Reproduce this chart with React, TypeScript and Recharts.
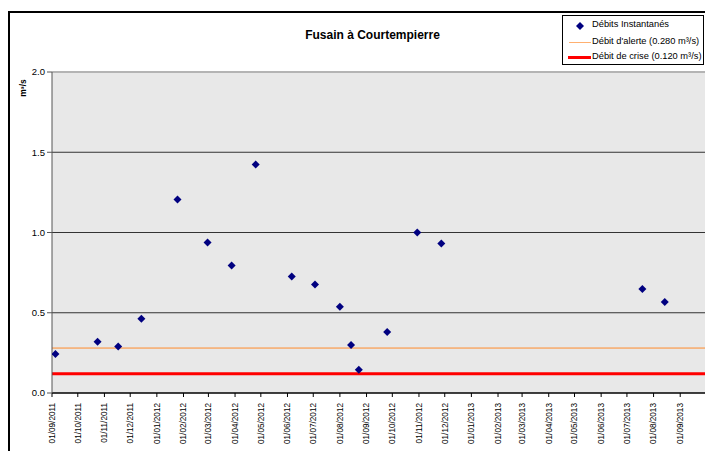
import { ScatterChart, Scatter, XAxis, YAxis, CartesianGrid, ReferenceLine } from 'recharts';

const sampleDates = [
  '05/09/2011', '24/10/2011', '17/11/2011', '14/12/2011', '25/01/2012', '29/02/2012',
  '28/03/2012', '25/04/2012', '06/06/2012', '03/07/2012', '01/08/2012', '14/08/2012',
  '23/08/2012', '25/09/2012', '30/10/2012', '27/11/2012', '19/07/2013', '14/08/2013',
];
const sampleFlows = [
  0.243, 0.319, 0.29, 0.463, 1.205, 0.938,
  0.795, 1.424, 0.726, 0.676, 0.537, 0.299,
  0.145, 0.38, 1.0, 0.932, 0.648, 0.567,
];

const monthTicks = [
  '01/09/2011', '01/10/2011', '01/11/2011', '01/12/2011', '01/01/2012', '01/02/2012',
  '01/03/2012', '01/04/2012', '01/05/2012', '01/06/2012', '01/07/2012', '01/08/2012',
  '01/09/2012', '01/10/2012', '01/11/2012', '01/12/2012', '01/01/2013', '01/02/2013',
  '01/03/2013', '01/04/2013', '01/05/2013', '01/06/2013', '01/07/2013', '01/08/2013',
  '01/09/2013',
];
const yTicks = [0, 0.5, 1, 1.5, 2];
const gridValues = [0.5, 1, 1.5];

const alertFlow = 0.28;
const crisisFlow = 0.12;

const parseDate = (s: string) => {
  const [d, m, y] = s.split('/').map(Number);
  return Date.UTC(y, m - 1, d);
};
const fmtDate = (t: number) => {
  const d = new Date(t);
  const dd = String(d.getUTCDate()).padStart(2, '0');
  const mm = String(d.getUTCMonth() + 1).padStart(2, '0');
  return `${dd}/${mm}/${d.getUTCFullYear()}`;
};

const data = sampleDates.map((s, i) => ({ t: parseDate(s), v: sampleFlows[i] }));
const tickTimes = monthTicks.map(parseDate);
const xDomain = [parseDate('01/09/2011'), parseDate('01/10/2013')];

const font = '"Liberation Sans", Arial, sans-serif';

const Diamond = (props: any) => {
  const { cx, cy } = props;
  if (cx == null || cy == null) return null;
  return (
    <polygon
      points={`${cx},${cy - 4} ${cx + 4},${cy} ${cx},${cy + 4} ${cx - 4},${cy}`}
      fill="#000080"
    />
  );
};

const DateTick = (props: any) => {
  const { x, y, payload } = props;
  return (
    <text
      x={x}
      y={y + 4}
      transform={`rotate(-90, ${x}, ${y + 4})`}
      textAnchor="end"
      dy="0.35em"
      fontSize={8.2}
      fontFamily={font}
      fill="#000"
    >
      {fmtDate(payload.value)}
    </text>
  );
};

export default function App() {
  return (
    <div
      style={{
        position: 'fixed', left: 0, top: 0, width: 705, height: 451,
        overflow: 'hidden', background: '#fff', fontFamily: font,
      }}
    >
      <div
        style={{
          position: 'absolute', left: 8, top: 11, width: 800, height: 500,
          borderLeft: '2px solid #000', borderTop: '2px solid #000',
        }}
      />
      <div
        style={{
          position: 'absolute', left: 0, width: 745, top: 28, textAlign: 'center',
          fontSize: 12, fontWeight: 'bold', color: '#000',
        }}
      >
        Fusain à Courtempierre
      </div>
      <div
        style={{
          position: 'absolute', left: 23, top: 88, fontSize: 8.5, fontWeight: 'bold',
          transform: 'translate(-50%, -50%) rotate(-90deg)', whiteSpace: 'nowrap',
        }}
      >
        m³/s
      </div>

      <div style={{ position: 'absolute', left: 0, top: 0 }}>
        <ScatterChart width={706} height={500} margin={{ top: 72, right: 0, bottom: 47, left: 0 }}>
          <CartesianGrid horizontal={false} vertical={false} fill="#e8e8e8" />
          {gridValues.map((g) => (
            <ReferenceLine key={g} y={g} stroke="#333" strokeWidth={1} />
          ))}
          <ReferenceLine y={2} stroke="#b4b4b4" strokeWidth={2} />
          <ReferenceLine y={alertFlow} stroke="#ff8a2a" strokeWidth={1} />
          <ReferenceLine y={crisisFlow} stroke="#ff0000" strokeWidth={3} />
          <XAxis
            type="number"
            dataKey="t"
            domain={xDomain}
            ticks={tickTimes}
            interval={0}
            allowDataOverflow
            height={60}
            tickSize={4}
            tick={<DateTick />}
            axisLine={{ stroke: '#000', strokeWidth: 1.5 }}
            tickLine={{ stroke: '#000' }}
          />
          <YAxis
            type="number"
            dataKey="v"
            domain={[0, 2]}
            ticks={yTicks}
            width={52}
            tickSize={5}
            tickMargin={2}
            tickFormatter={(v: number) => v.toFixed(1)}
            tick={{ fontSize: 9.5, fill: '#000', fontFamily: font }}
            axisLine={{ stroke: '#555' }}
            tickLine={{ stroke: '#555' }}
          />
          <Scatter data={data} shape={<Diamond />} isAnimationActive={false} />
        </ScatterChart>
      </div>

      <div
        style={{
          position: 'absolute', left: 562, top: 15, width: 140, height: 48,
          border: '1px solid #000', background: '#fff', fontSize: 9.3, color: '#000',
        }}
      >
        <div style={{ position: 'absolute', left: 13, top: 6, width: 8, height: 8 }}>
          <svg width={8} height={8}>
            <polygon points="4,0 8,4 4,8 0,4" fill="#000080" />
          </svg>
        </div>
        <div style={{ position: 'absolute', left: 29, top: 3, whiteSpace: 'nowrap' }}>Débits Instantanés</div>
        <div style={{ position: 'absolute', left: 6, top: 26, width: 22, height: 1, background: '#ffb070' }} />
        <div style={{ position: 'absolute', left: 29, top: 20, whiteSpace: 'nowrap' }}>Débit d'alerte (0.280 m³/s)</div>
        <div style={{ position: 'absolute', left: 5, top: 40, width: 23, height: 3, background: '#ff0000' }} />
        <div style={{ position: 'absolute', left: 29, top: 35, whiteSpace: 'nowrap' }}>Débit de crise (0.120 m³/s)</div>
      </div>
    </div>
  );
}
